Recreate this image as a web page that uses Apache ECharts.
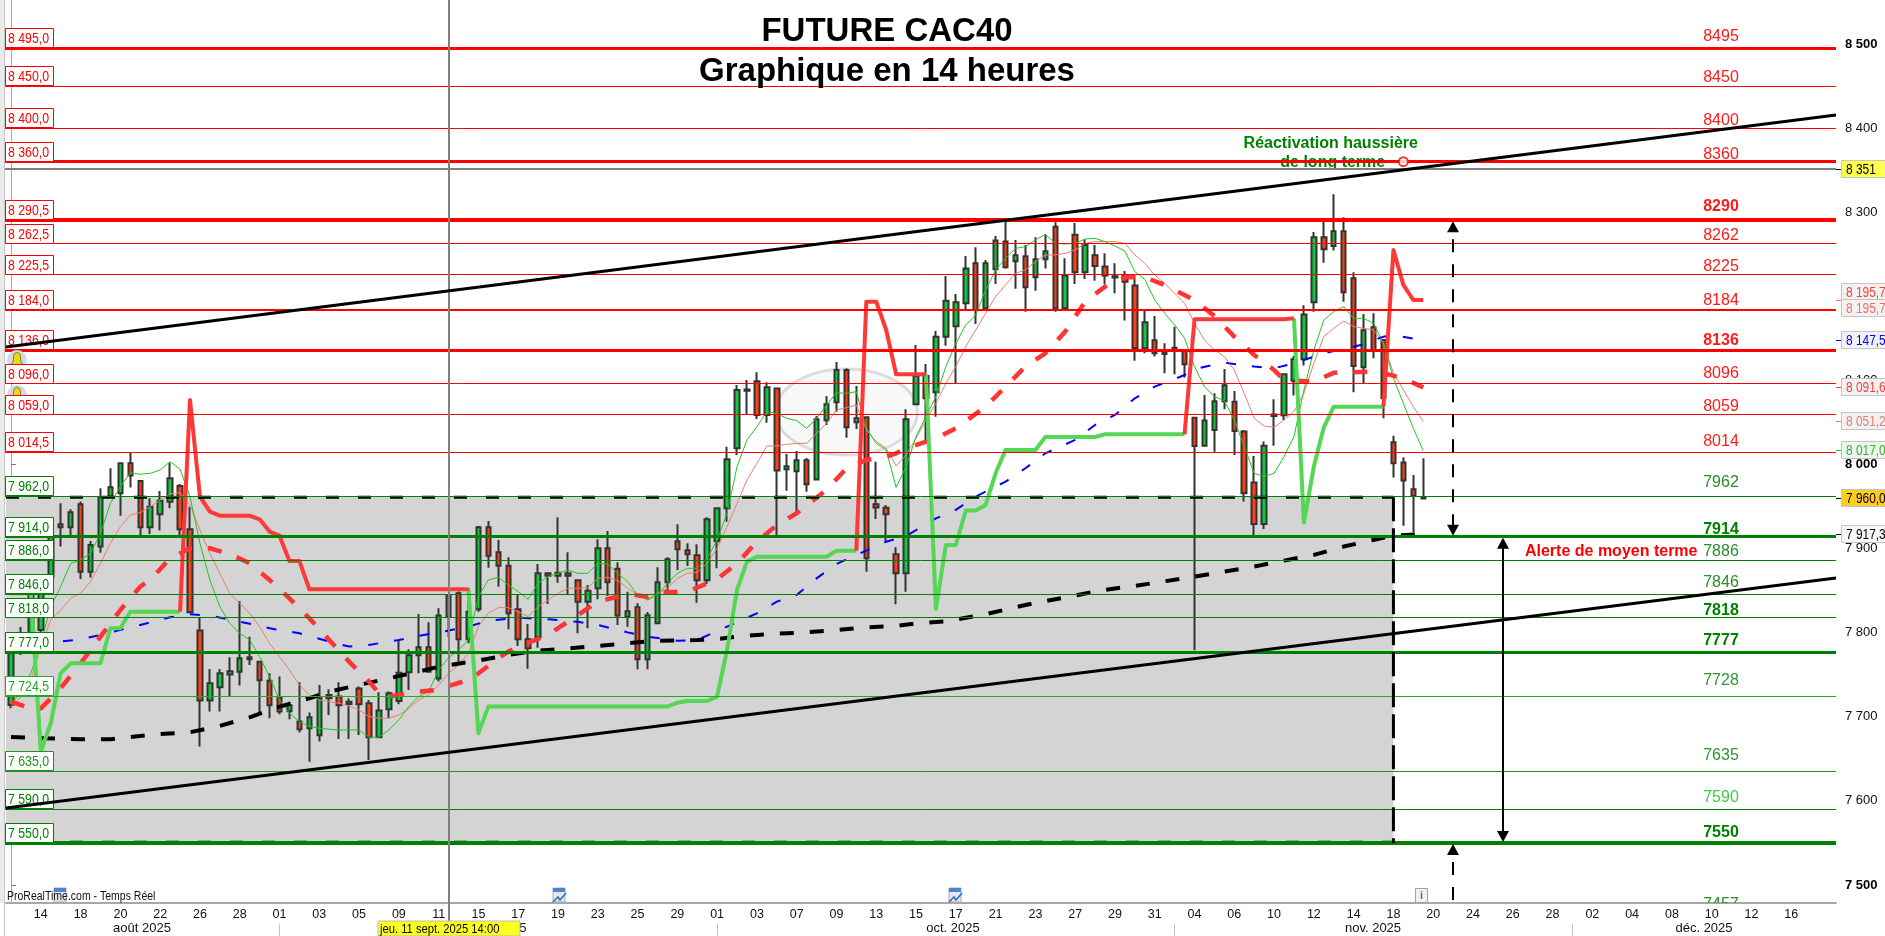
<!DOCTYPE html>
<html><head><meta charset="utf-8"><title>FUTURE CAC40</title>
<style>html,body{margin:0;padding:0;background:#fff}#c{width:1885px;height:936px}</style>
<script src="https://cdn.jsdelivr.net/npm/echarts@6/dist/echarts.min.js"></script>
</head><body><div id="c"></div>
<script>
// ---------- candles (one bar = 14 hours) ----------
const candleOpen=[7714.1,7776.3,7799.3,7803.3,7866.7,7928.9,7925.3,7952.7,7872.6,7902.4,7961.8,7965.8,8001.4,7980.4,7925.3,7940.8,7955.8,7974.5,7923,7802.5,7719.3,7735.1,7750.2,7753.7,7770.8,7765.6,7743,7723.2,7706.6,7694.3,7686.4,7678,7726,7724,7718,7733.5,7716.1,7675.7,7709,7718.9,7752.9,7773.2,7782.7,7745.4,7819.1,7846.9,7792.2,
7827.8,7925.3,7895.6,7879.7,7827.8,7792.1,7794.5,7870.6,7867.8,7870.6,7862.3,7836.9,7852.8,7900.3,7876.1,7819.1,7830.2,7768.3,7811.1,7859.9,7908.6,7897.9,7892,7862.3,7908.6,7947.9,8019.2,8089.3,8098.9,8058.8,8090.5,7994.2,7991.9,8004.9,7982.3,8052.5,8073.9,8112.3,8050.1,8056.1,7952.6,7948.7,7893.2,7870.6,8071.6,8105.3,8085.8,8152,8164.3,8191.7,8239.2,8185.7,8232.1,8265,8241.6,8247.5,8222.6,8244,8282.8,8185.7,8273.3,8228.5,8248.7,8235.3,8223.8,8224.2,8212.7,8138.2,8147.7,8131.4,8138.9,8136.2,8055.7,8022.4,8041.1,8075.1,8074.7,8039.1,7978.5,7929.3,8059.3,8058.5,8099.7,8125.1,8192.8,8270.1,8259.8,8277.3,8221.4,8115.6,8163.1,8148.1,8026.4,8002.3,7970.5,7961];
const candleClose=[7775.5,7795.3,7844.9,7846.9,7914.2,7925.3,7943.2,7872.6,7904.3,7961,7972.9,8001.4,7986.8,7925.3,7949.9,7957,7983.6,7923,7824.3,7719.3,7739.9,7751.8,7754.1,7769.6,7768.4,7743.4,7713.7,7706.2,7713.7,7685.2,7699.4,7722,7722,7713.7,7715.3,7714.9,7675.7,7707.4,7728,7752.5,7773.2,7782.7,7753.7,7820.3,7844.9,7792.2,7825,
7925.3,7891.6,7879.7,7823,7792.1,7781.4,7870.6,7867.8,7871.4,7867.8,7836.9,7850,7900.3,7859.9,7820.3,7825.4,7768.3,7820.7,7859.9,7887.2,7899.1,7893.2,7862.3,7934.8,7947.9,8006.1,8088.6,8087.8,8058.8,8091.7,7993,7997.8,8004.9,7976.4,8053.7,8071.5,8112.3,8044.2,8054.9,7888.4,7949,7940.7,7870.6,8053.7,8105.3,8078.7,8152,8194.8,8192.8,8232.9,8183.7,8239.2,8266.2,8234.5,8248.7,8210.7,8244,8253.5,8185.7,8224.6,8228.5,8261,8236,8224.6,8222.2,8217.4,8138.2,8169.1,8132.2,8134.2,8136.2,8119.1,8022,8052.2,8075.1,8094.2,8039.9,7965.8,7929.3,8022.4,8057.7,8107.3,8125.1,8178.2,8270.1,8255.9,8277.3,8204.7,8117.2,8159.6,8136.2,8078.7,8001.5,7980.9,7962.6,7959.5];
const candleLow=[7710.1,7773.5,7797,7800,7858.8,7902.4,7916.2,7863.9,7865.5,7895.2,7961,7939.2,7972.5,7915,7917.4,7921.4,7947.9,7914.2,7824,7664.6,7706.2,7706.2,7724.8,7737.1,7761.7,7702.2,7698.3,7703,7697.1,7681.2,7646.7,7670.5,7702.2,7673.7,7673.7,7678.4,7648.7,7674.5,7698.3,7714.9,7732,7751.8,7753.7,7741.9,7795.3,7763.6,7787.4,
7825,7877.3,7854.7,7804,7784.2,7757.2,7782.2,7834.1,7859.5,7846,7799.3,7805.2,7839.7,7843.6,7809.2,7807.2,7756.5,7756.5,7811.1,7847.6,7874.6,7879.3,7835.7,7857.9,7876.5,7932,8011.3,8058.8,8054.1,8049.7,7914.2,7968.9,7942.7,7967.7,7982.3,8046.9,8062.8,8031.9,8042.2,7872.6,7935.2,7909,7833.7,7848.8,8071.6,8026.4,8056.9,8141.3,8096.6,8184.5,8167.1,8184.9,8214.6,8232.9,8209.1,8181.7,8206.7,8232.9,8181.7,8184.9,8214.6,8220.6,8218.6,8214.6,8203.6,8171.1,8123.5,8132.2,8128.3,8108.4,8107.3,8103.3,7779,8021.2,8015.3,8065.6,8011.3,7955.9,7914.3,7923.4,8022.4,8053,8081.9,8117.6,8181.7,8240,8254.3,8193.6,8085.8,8095.8,8126.3,8055,7984.4,7927.3,7919,7959.5];
const candleHigh=[7777,7806.8,7847,7850,7916,7953.9,7946.7,7955.9,7909.1,7971.7,7995.5,8002.2,8014.1,7981.6,7959.8,7968.5,8002.2,7976.9,7949.9,7817.9,7756.9,7756.9,7770.8,7837.8,7795.3,7765.6,7751.8,7747.8,7718,7741,7705,7737.9,7732.7,7741,7722,7735.9,7720,7729.2,7730,7791.4,7780.3,7822.3,7812.4,7829,7844.9,7848.9,7852.8,
7926.9,7932.8,7910.2,7889.6,7844.8,7810.4,7881.7,7870.6,7937.2,7895.6,7863.5,7856.7,7911,7920.9,7883.7,7848.8,7835,7824.6,7877.7,7889.6,7928.8,7906.3,7905.1,7937.2,7947.9,8021.2,8094.5,8100.4,8109.6,8097.7,8090.5,8012.5,8016,8007.7,8057.6,8081.4,8121.8,8114.3,8093.3,8056.1,8003.4,7951.8,7901.5,8065.6,8142.1,8119.5,8158.8,8224.2,8202.8,8247.9,8258.2,8243.2,8271.7,8289.5,8267,8261,8270.1,8273.7,8288,8245.2,8287.2,8267.7,8261,8251.1,8239.2,8230.1,8224.6,8182.5,8176.6,8144.1,8163.9,8136.2,8055.7,8082.7,8084.7,8113.6,8087.4,8041.1,8010.2,8027.2,8077.5,8107.3,8129,8189.3,8276.5,8288.8,8321.2,8293.9,8228.5,8179,8179.8,8148.1,8034.3,8008.6,7987.6,8007.4];

// ---------- indicators ----------
const fastAverage=[7712.1,7732,7751.8,7787.4,7831,7854.8,7882.5,7886.5,7894.4,7918.2,7953.9,7973.7,7990.3,7988.4,7989.5,7993.5,8003.4,7994.3,7961.8,7906.3,7862.7,7831,7811.2,7799.3,7791.4,7771.6,7747.8,7720,7704.2,7694.3,7688.4,7686.4,7685.2,7684.4,7684.4,7684.4,7675.7,7675.7,7684.4,7696.3,7712.1,7724,7730,7755.7,7770,7779.4,7791.3,
7842.9,7862.7,7865.8,7856.7,7848.8,7839.7,7858.7,7866.6,7870.6,7874.6,7870.6,7870.6,7882.5,7881.7,7870.6,7860.7,7844.8,7838.9,7844.8,7858.7,7870.6,7876.5,7876.5,7888.4,7910.2,7941.9,7997.4,8029.1,8045,8062.8,8060.8,8054.9,8052.1,8043,8054.9,8070.7,8085.4,8084.6,8086.6,8043,8025.1,8017.2,7972.8,7997.4,
8033.1,8056.9,8080.7,8116.4,8144.1,8165.9,8177.8,8207.5,8231.3,8245.2,8257,8259,8267,8273.7,8263,8262.2,8263,8268.1,8268.9,8265,8259.8,8253.9,8229.3,8220.2,8195.6,8179.8,8165.9,8150,8116.4,8092.6,8080.7,8075.9,8053,8021.2,7989.5,7985.6,7989.5,8009.4,8033.1,8088.6,8136.2,8171.8,8181.7,8187.7,8173.8,8173.8,8167.9,8144.1,8102.5,8072.8,8043,8016.5];
const slowAverage=[7710.1,7724,7743.8,7783.5,7815.2,7827,7840.9,7846.9,7860.7,7882.5,7906.3,7926.1,7940,7942.8,7949.9,7957.8,7965,7966.6,7951.9,7922.2,7894.4,7870.6,7846.9,7835,7823.1,7807.2,7787.4,7771.6,7755.7,7737.9,7726,7720,7718,7716.1,7712.9,7708.2,7700.2,7698.3,7698.3,7702.2,7710.1,7720,7726,7737.9,7751.8,7761.7,7775.5,
7807.2,7823,7829.8,7829.8,7825,7819.1,7831,7838.9,7846.8,7852.8,7852.8,7853.5,7864.6,7865.8,7861.9,7852.8,7844.8,7840,7846.8,7852.8,7864.6,7870.6,7871.8,7882.5,7900.3,7926.1,7953.8,7981.6,8001.4,8022,8022,8024,8025.1,8025.1,8037,8048.9,8064.8,8067.6,8070.7,8041,8027.1,8019.2,7998.2,8011.3,8031.1,
8053,8072.8,8096.5,8116.4,8140.1,8160,8179.8,8199.6,8213.5,8227.3,8231.3,8241.2,8249.1,8249.1,8251.1,8255.1,8263,8265,8265,8265,8263,8249.1,8239.2,8225.3,8215.4,8203.6,8191.7,8167.9,8148,8136.2,8128.2,8112.4,8084.6,8054.9,8045.8,8044.2,8053,8062.9,8084.6,8120.3,8152,8161.9,8170.7,8163.9,8161.9,8160,8144,8108.5,8088.6,8068.8,8051.2];

const channelLine=[7846.9,7846.9,7846.9,7658.6,7692.3,7751.8,7763.6,7763.6,7763.6,7763.6,7805.3,7805.3,7825,7825,7825,7825,7825,7825,
8076.7,7961.8,7944,7939.2,7939.2,7939.2,7939.2,7934.8,7920.2,7915.4,7885.3,7885.3,7851.6,7851.6,7851.6,7851.6,7851.6,7851.6,7851.6,7851.6,7851.6,7851.6,7851.6,7851.6,7851.6,7851.6,7851.6,7851.6,7851.6,
7680.4,7712.1,7712.1,7712.1,7712.1,7712.1,7712.1,7712.1,7712.1,7712.1,7712.1,7712.1,7712.1,7712.1,7712.1,7712.1,7712.1,7712.1,7712.1,7712.1,7716.8,7718.8,7718.8,7718.8,7724,7779.4,7850.8,7884.5,7890.4,7890.4,7890.4,7890.4,7890.4,7890.4,7890.4,7890.4,7897.5,7897.5,7897.5,
8193.6,8193.6,8159.9,8107.3,8107.3,8107.3,8107.3,
7828.2,7904.3,7904.3,7945.2,7945.2,7951.9,7989.5,8017.3,8017.3,8017.3,8017.3,8032.7,8032.7,8032.7,8032.7,8032.7,8032.7,8035.9,8035.9,8035.9,8035.9,8035.9,8035.9,8035.9,8035.9,8035.9,
8172.6,8172.6,8172.6,8172.6,8172.6,8172.6,8172.6,8172.6,8172.6,8172.6,8173.8,
7930.9,7997.5,8044.2,8068.8,8068.8,8068.8,8068.8,8068.8,8068.8,
8255.1,8213.5,8195.6,8195.7];
const channelGreenRuns=[[0,17],[46,85],[92,118],[129,138]];
const channelRedRuns=[[17,46],[85,92],[118,129],[138,142]];

const blueAverageBars=[0,4,7,9,13,16,18,20,23,26,29,32,34,36,39,41,44,46,48,51,54,57,59,62,64,67,69,72,75,77,79,81,83,85,88,90,93,95,97,100,102,104,107,109,111,113,115,118,119,122,125,127,129,132,135,136,138,139,142];
const blueAverage=[7787.4,7788.2,7792.2,7797.3,7809.2,7818.3,7821.9,7820.3,7813.2,7805.3,7799.3,7789.4,7783.5,7785.5,7791.4,7796.2,7802.5,7807.2,7814.3,7817.9,7815.9,7813,7809.2,7800.4,7795.3,7790.5,7791.3,7807.2,7823,7836.9,7844.8,7864.6,7881.7,7892.4,7908.2,7915,7936,7946,7961.8,7979.6,7995.5,8013.3,8029.2,8047,8058.9,8078.7,8092.6,8106.4,8113.6,8121.1,8116.4,8114.4,8120.3,8132.2,8140,8143,8152,8154,8147.5];

const redAverageBars=[0,2,3,5,7,9,11,13,14,16,18,20,22,24,26,28,30,32,34,36,37,38,40,41,43,44,46,47,49,50,51,54,57,59,62,64,65,68,70,71,73,75,77,79,82,84,86,88,89,90,93,95,98,100,102,104,106,108,110,112,114,116,119,121,123,125,127,128,131,133,137,138,140,142];
const redAverage=[7718,7710.1,7710,7734,7763.6,7795.3,7827,7854.8,7862.7,7888.5,7900.4,7900.4,7893.6,7882.5,7862.7,7840.9,7817.2,7791.4,7765.6,7741.9,7728,7724,7728,7730,7732,7736.7,7743.8,7751.7,7769.5,7777.5,7783.4,7797.3,7821,7836.9,7846,7842.8,7848,7848.8,7858.7,7863.5,7882.5,7908.2,7928,7942,7969.7,7995.4,8005.3,8009.3,8013.3,8019.2,8031,8043,8068.8,8092.6,8116.4,8132.2,8158,8193.6,8211.5,8222.6,8222.6,8213.5,8195.6,8176.6,8152,8130.2,8112.4,8100.5,8098.5,8109,8110.4,8108.5,8102.5,8091.6];

const blackAverageBars=[0,3,7,10,13,15,18,21,24,27,30,32,35,38,41,43,47,50,53,59,62,65,69,71,74,77,80,83,86,89,91,94,98,102,106,110,113,119,122,125,128,131,134,137,139,142];
const blackAverage=[7676,7674.5,7673.3,7673.3,7677.3,7679.6,7681.6,7689.1,7699.4,7712.1,7722,7729.9,7737.9,7745.8,7753.7,7759.6,7766.8,7773.5,7778.6,7784.2,7787.4,7790.5,7791.3,7792.5,7796.5,7798.9,7800.4,7803.2,7806.4,7808,7811.1,7813.5,7822,7833,7842,7851,7855.6,7866.7,7872.6,7878.6,7885.7,7892.5,7902.4,7910.3,7915.5,7917.3];

// ---------- levels, labels, ticks ----------
const redLevels=[8495,8450,8400,8360,8290.5,8262.5,8225.5,8184,8136,8096,8059,8014.5];
const greenLevels=[7962,7914,7886,7846,7818,7777,7724.5,7635,7590,7550];
const levelTexts=['8495','8450','8400','8360','8290','8262','8225','8184','8136','8096','8059','8014','7962','7914','7886','7846','7818','7777','7728','7635','7590','7550','7457'];
const levelTextAt=[8495.2,8446.5,8396.2,8355.8,8294,8258.6,8222.6,8182.2,8134.6,8095.4,8055.3,8013.7,7964.9,7909.9,7883.7,7846,7813.7,7777,7729.6,7640.7,7590.8,7549.7,7464];
const trendBars=[-0.5,183.5];
const upperTrend=[8139.7,8415.6];
const lowerTrend=[7591.6,7865];
const yTicks=[7500,7600,7700,7800,7900,8000,8100,8200,8300,8400,8500];
const boldTicks=[7500,8000,8500];
const dayLabels=['14','18','20','22','26','28','01','03','05','09','11','15','17','19','23','25','29','01','03','07','09','13','15','17','21','23','27','29','31','04','06','10','12','14','18','20','24','26','28','02','04','08','10','12','16'];
const tagValues=[8351,8195.7,8195.7,8147.5,8091.6,8051.2,8017,7960,7917.3];
const tagTexts=['8 351','8 195,7','8 195,7','8 147,5','8 091,6','8 051,2','8 017,0','7 960,0','7 917,3'];
const crosshairBar=44, crosshairPrice=8351;
const zoneTop=7962, zoneBottom=7550, zoneEndBar=139;
const arrowBars=[145,150,145];
const arrowFrom=[8290.5,7914,7478.6];
const arrowTo=[7914,7550,7550];
const noteTexts=['Réactivation haussière','de long terme','Alerte de moyen terme'];
const noteBars=[132.7,132.9,160.9];
const notePrices=[8382,8359,7897];
const signalBar=[140], signalPrice=[8360];
const ellipseBar=[84], ellipsePrice=[8062.4];

// ---------- styles (not data) ----------
const SANS='"Liberation Sans",Arial,sans-serif';
const RED='#ff0000', GREEN='#008000';
const levelWidth={8495:3,8360:3,8290.5:4,8184:2,8136:3,7914:3,7777:3,7550:4};
const levelColor={7724.5:'#22aa22',7635:'#1f931f'};
const boldText=['8290','8136','7914','7818','7777','7550'];
const textColor={'7590':'#44cc44','7728':'#2f962f','7635':'#2f962f'};
const tagStyle=[
 {c:'#000',bg:'#ffff4d',dy:0},{c:'#ff3b3b',bg:'#f2f2f2',dy:-8},{c:'#ff6a6a',bg:'#f2f2f2',dy:8},
 {c:'#0000ff',bg:'#f2f2f2',dy:0},{c:'#ff3b3b',bg:'#f2f2f2',dy:0},{c:'#e87a72',bg:'#f2f2f2',dy:0},
 {c:'#1fc41f',bg:'#f2f2f2',dy:0},{c:'#000',bg:'#ffcc22',dy:0},{c:'#000',bg:'#f7f7f7',dy:0}];
const arrowStyle=[{dash:[13,12],top:true,bottom:true},{dash:null,top:true,bottom:true},{dash:[13,12],top:true,bottom:false}];

// ---------- build ----------
const BARS=184;
const categories=Array.from({length:BARS},(_,i)=>{const k=(i-3)/4;return Number.isInteger(k)&&dayLabels[k]?dayLabels[k]:'';});
const ohlc=candleOpen.map((o,i)=>[o,candleClose[i],candleLow[i],candleHigh[i]]);
const pairs=(xs,ys)=>xs.map((x,i)=>[x,ys[i]]);
const byBar=a=>a.map((v,i)=>[i,v]);
const runs=(a,r)=>a.map((v,i)=>[i,r.some(([s,e])=>i>=s&&i<=e)?v:null]);
const allLevels=redLevels.concat(greenLevels);
const X2={xAxisIndex:1,yAxisIndex:0};

function lineSeries(name,data,color,width,z,dash,opacity){
 return Object.assign({type:'line',name,data,showSymbol:false,silent:true,z,animation:false,clip:true,
  lineStyle:{color,width,type:dash||'solid',opacity:opacity==null?1:opacity,cap:'butt',join:'round'}},X2);
}
const option={
 animation:false,
 title:{text:'FUTURE CAC40\nGraphique en 14 heures',left:886,top:7,textAlign:'center',
  textStyle:{fontFamily:SANS,fontWeight:'bold',fontSize:33,color:'#000',lineHeight:40}},
 grid:{left:6,top:0,width:1830,height:903,containLabel:false,show:false},
 xAxis:[
  {type:'category',data:categories,boundaryGap:true,position:'bottom',
   axisLine:{show:true,lineStyle:{color:'#a8a8a8',width:2}},axisTick:{show:false},splitLine:{show:false},
   axisLabel:{interval:0,margin:5,color:'#111',fontFamily:SANS,fontSize:12.5}},
  {type:'value',min:-0.5,max:183.5,show:false}
 ],
 yAxis:[{type:'value',position:'right',min:7478.6,max:8552.3,scale:true,splitLine:{show:false},
   axisLine:{show:true,lineStyle:{color:'#a8a8a8',width:1}},
   axisTick:{show:true,length:5,lineStyle:{color:'#777'},customValues:yTicks},
   axisLabel:{margin:9,color:'#111',fontFamily:SANS,fontSize:13,customValues:yTicks,
     formatter:v=>{const s=String(v);const t=s[0]+' '+s.slice(1);return boldTicks.includes(v)?'{b|'+t+'}':t;},
     rich:{b:{fontWeight:'bold',fontFamily:SANS,fontSize:13,color:'#000'}}}}],
 series:[
  // grey zone
  Object.assign({type:'line',name:'zone',data:[],silent:true,z:1,
    markArea:{silent:true,itemStyle:{color:'#d4d4d4'},data:[[{yAxis:zoneTop},{yAxis:zoneBottom,xAxis:zoneEndBar}]]}},X2),
  // highlight ellipse
  Object.assign({type:'custom',name:'ellipse',z:2,silent:true,data:pairs(ellipseBar,ellipsePrice),
    renderItem:(p,api)=>{const c=api.coord([api.value(0),api.value(1)]);
      return {type:'ellipse',shape:{cx:c[0],cy:c[1],rx:71,ry:43},style:{fill:'#f8f8f8',stroke:'#dcdcdc',lineWidth:3}};}},X2),
  // candles
  {type:'candlestick',name:'CAC40',data:ohlc,xAxisIndex:0,yAxisIndex:0,barWidth:5,z:3,silent:true,
   itemStyle:{color:'#0fc83c',color0:'#ff4012',borderColor:'#333',borderColor0:'#333',borderWidth:2}},
  lineSeries('slow',byBar(slowAverage),'#e87f74',1,4),
  lineSeries('fast',byBar(fastAverage),'#1fc81f',1,4),
  lineSeries('blue',pairs(blueAverageBars,blueAverage),'#0000ff',2,4,[10,16]),
  lineSeries('black avg',pairs(blackAverageBars,blackAverage),'#000',4,4,[14,16]),
  lineSeries('red avg',pairs(redAverageBars,redAverage),'#ff3535',4.5,4.5,[14,16]),
  lineSeries('channel up',runs(channelLine,channelGreenRuns),'#55d655',4,5),
  lineSeries('channel down',runs(channelLine,channelRedRuns),'#ff3838',4,5),
  // zone outline
  lineSeries('zone top',pairs([-0.5,zoneEndBar],[zoneTop-1,zoneTop-1]),'#000',3,5,[13,19]),
  lineSeries('zone side',pairs([zoneEndBar,zoneEndBar],[zoneTop-1,zoneBottom]),'#000',3,7,[24,7]),
  lineSeries('zone bottom',pairs([-0.5,zoneEndBar],[zoneBottom+1.5,zoneBottom+1.5]),'#000',2,5,[13,19]),
  // note text under the lines
  Object.assign({type:'custom',name:'notes',z:5.5,silent:true,data:pairs(noteBars,notePrices),
    renderItem:(p,api)=>{const c=api.coord([api.value(0),api.value(1)]);const i=p.dataIndex;
      return {type:'text',x:c[0],y:c[1],style:{text:noteTexts[i],align:'center',verticalAlign:'middle',
        fontFamily:SANS,fontWeight:'bold',fontSize:16,fill:i==2?'#ff0000':'#008000'}};}},X2),
  // horizontal levels
  Object.assign({type:'custom',name:'levels',z:6,silent:true,data:allLevels.map(v=>[0,v]),
    renderItem:(p,api)=>{const v=api.value(1);const y0=api.coord([0,v])[1];const w=levelWidth[v]||1;
      const y=w%2?Math.round(y0-0.5)+0.5:Math.round(y0);const cs=p.coordSys;
      const col=levelColor[v]||(v>=8014?RED:GREEN);
      return {type:'line',shape:{x1:5,y1:y,x2:cs.x+cs.width,y2:y},style:{stroke:col,lineWidth:w}};}},X2),
  // left boxed labels
  Object.assign({type:'custom',name:'left labels',z:6.5,silent:true,data:allLevels.map(v=>[0,v]),
    renderItem:(p,api)=>{const v=api.value(1);const y=Math.round(api.coord([0,v])[1]);const col=levelColor[v]||(v>=8014?RED:GREEN);
      const s=v.toFixed(1).replace('.',',');
      return {type:'group',children:[
       {type:'rect',shape:{x:5.5,y:y-19.5,width:48,height:19},style:{fill:'#fff',stroke:col,lineWidth:1}},
       {type:'text',x:8,y:y-9,scaleX:0.82,style:{text:s[0]+' '+s.slice(1),align:'left',verticalAlign:'middle',fontFamily:SANS,fontSize:15,fill:col}}]};}},X2),
  // right plain texts
  Object.assign({type:'custom',name:'right texts',z:6.5,silent:true,clip:true,data:levelTextAt.map(v=>[166,v]),
    renderItem:(p,api)=>{const c=api.coord([0,api.value(1)]);const t=levelTexts[p.dataIndex];const b=boldText.includes(t);
      const col=textColor[t]||(Number(t)>=8014?'#ff1a1a':(b?GREEN:'#2b8a2b'));
      return {type:'text',x:1721,y:c[1]-11,style:{text:t,align:'center',verticalAlign:'middle',fontFamily:SANS,fontSize:16,fontWeight:b?'bold':'normal',fill:col}};}},X2),
  // crosshair
  Object.assign({type:'custom',name:'crosshair',z:6.6,silent:true,data:[[crosshairBar,crosshairPrice]],
    renderItem:(p,api)=>{const c=api.coord([api.value(0),api.value(1)]);const cs=p.coordSys;const x=Math.round(c[0]),y=Math.round(c[1]);
      return {type:'group',children:[
       {type:'line',shape:{x1:x,y1:0,x2:x,y2:922},style:{stroke:'#808080',lineWidth:2}},
       {type:'line',shape:{x1:5,y1:y,x2:cs.x+cs.width,y2:y},style:{stroke:'#808080',lineWidth:2}}]};}},X2),
  // trend lines
  lineSeries('upper trend',pairs(trendBars,upperTrend),'#000',3,7),
  lineSeries('lower trend',pairs(trendBars,lowerTrend),'#000',3,7),
  // arrows
  Object.assign({type:'custom',name:'arrows',z:7,silent:true,clip:false,data:pairs(arrowBars,arrowFrom),
    renderItem:(p,api)=>{const i=p.dataIndex,st=arrowStyle[i];const a=api.coord([api.value(0),arrowFrom[i]]);const b=api.coord([api.value(0),arrowTo[i]]);
      const x=Math.round(a[0]),t=Math.min(a[1],b[1])+1,e=Math.max(a[1],b[1])-1;const ch=[];
      ch.push({type:'line',shape:{x1:x,y1:st.top?t+(st.dash?18:8):t,x2:x,y2:st.bottom?e-8:e},style:{stroke:'#000',lineWidth:2,lineDash:st.dash||null}});
      if(st.top)ch.push({type:'polygon',shape:{points:[[x,t],[x-6,t+11],[x+6,t+11]]},style:{fill:'#000'}});
      if(st.bottom)ch.push({type:'polygon',shape:{points:[[x,e],[x-6,e-11],[x+6,e-11]]},style:{fill:'#000'}});
      return {type:'group',children:ch};}},X2),
  // signal circle
  Object.assign({type:'scatter',name:'signal',data:pairs(signalBar,signalPrice),symbol:'circle',symbolSize:9,z:8,silent:true,
    itemStyle:{color:'#fff',borderColor:'#ff0000',borderWidth:2}},X2),
  // right price tags
  Object.assign({type:'custom',name:'tags',z:9,silent:true,clip:false,data:tagValues.map(v=>[183,v]),
    renderItem:(p,api)=>{const i=p.dataIndex,s=tagStyle[i];const y=Math.round(api.coord([0,api.value(1)])[1])+s.dy;const y0=Math.round(api.coord([0,api.value(1)])[1]);
      return {type:'group',children:[
       {type:'line',shape:{x1:1836,y1:y0+.5,x2:1842,y2:y0+.5},style:{stroke:s.c,lineWidth:1}},
       {type:'rect',shape:{x:1841.5,y:y-8.5,width:50,height:17},style:{fill:s.bg,stroke:'#c4c4c4',lineWidth:1}},
       {type:'text',x:1846,y:y+1,scaleX:0.82,style:{text:tagTexts[i],align:'left',verticalAlign:'middle',fontFamily:SANS,fontSize:14.5,fill:s.c}}]};}},X2)
 ],
 graphic:{elements:[
  {type:'rect',z:20,silent:true,shape:{x:0,y:0,width:5,height:903},style:{fill:'#e9e9e9'}},
  {type:'line',z:20,silent:true,shape:{x1:4.5,y1:0,x2:4.5,y2:936},style:{stroke:'#c8c8c8',lineWidth:1}},
  // bells
  {type:'group',z:6.2,children:[
   {type:'circle',z:6.2,shape:{cx:17,cy:360,r:10},style:{fill:'#cfdce8'}},
   {type:'polygon',z:6.2,shape:{points:[[17,352],[20,354],[21,362],[25,368],[9,368],[13,362],[14,354]]},style:{fill:'#e8d820',stroke:'#8a8010',lineWidth:1}},
   {type:'circle',z:6.2,shape:{cx:17,cy:395,r:10},style:{fill:'#cfdce8'}},
   {type:'polygon',z:6.2,shape:{points:[[17,387],[20,389],[21,397],[25,403],[9,403],[13,397],[14,389]]},style:{fill:'#e8d820',stroke:'#8a8010',lineWidth:1}}]},
  // calendars & info
  ...[60,559,955].map((x,k)=>({type:'group',z:19,children:[
    {type:'rect',z:19,shape:{x:x-6,y:888,width:12,height:14},style:{fill:'#e6e6f0',stroke:'#aab',lineWidth:1}},
    {type:'rect',z:19,shape:{x:x-6,y:888,width:12,height:4},style:{fill:'#4a86c8'}},
    ...(k?[{type:'polyline',z:19,shape:{points:[[x-6,902],[x-1,897],[x+1,900],[x+7,893]]},style:{stroke:'#2a6ad0',fill:null,lineWidth:1.5}}]:[])]})),
  {type:'rect',z:21,shape:{x:1415.5,y:888.5,width:12,height:14},style:{fill:'#eef2f6',stroke:'#8aa',lineWidth:1}},
  {type:'text',z:21,x:1421.5,y:896,style:{text:'i',align:'center',verticalAlign:'middle',fontFamily:SANS,fontWeight:'bold',fontSize:11,fill:'#577'}},
  // watermark
  {type:'text',z:20,x:7,y:897,scaleX:0.84,style:{text:'ProRealTime.com - Temps Réel',align:'left',verticalAlign:'middle',fontFamily:SANS,fontSize:12.5,fill:'#111'}},
  // month strip
  ...[279,717,1174,1572].map(x=>({type:'line',z:20,shape:{x1:x+.5,y1:924,x2:x+.5,y2:936},style:{stroke:'#c4c4c4',lineWidth:1}})),
  ...[['août 2025',142],['sept. 2025',496],['oct. 2025',953],['nov. 2025',1373],['déc. 2025',1704]].map(([t,x])=>({type:'text',z:20,x,y:928,style:{text:t,align:'center',verticalAlign:'middle',fontFamily:SANS,fontSize:13,fill:'#111'}})),
  // yellow date tag
  {type:'rect',z:22,shape:{x:378,y:921,width:142,height:15},style:{fill:'#ffff22',stroke:'#bbb',lineWidth:1}},
  {type:'text',z:22,x:380,y:929,scaleX:0.83,style:{text:'jeu. 11 sept. 2025 14:00',align:'left',verticalAlign:'middle',fontFamily:SANS,fontSize:13.5,fill:'#000'}}
 ]}
};
// title centre is nudged to the reference position
option.title.left=882;
const chart=echarts.init(document.getElementById('c'),null,{renderer:'canvas'});
chart.setOption(option);
</script></body></html>
